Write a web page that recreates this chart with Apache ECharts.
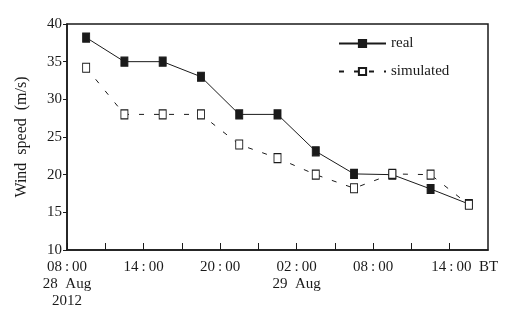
<!DOCTYPE html>
<html>
<head>
<meta charset="utf-8">
<script src="https://cdn.jsdelivr.net/npm/echarts@6/dist/echarts.min.js"></script>
<style>
  html, body { margin: 0; padding: 0; background: #fff; }
  #main { width: 527px; height: 315px; }
</style>
</head>
<body>
<div id="main"></div>
<script>
// hours after 08:00 28 Aug 2012
var obsHours = [1.5, 4.5, 7.5, 10.5, 13.5, 16.5, 19.5, 22.5, 25.5, 28.5, 31.5];
var realSpeed = [38.2, 35, 35, 33, 28, 28, 23.1, 20.1, 20, 18.1, 16.1];
var simSpeed = [34.2, 28, 28, 28, 24, 22.2, 20, 18.2, 20.1, 20, 16];
var tickHours = [0, 6, 12, 18, 24, 30];
var tickText = [
    '08\u2009:\u200900\n28  Aug\n2012',
    '14\u2009:\u200900',
    '20\u2009:\u200900',
    '02\u2009:\u200900\n29  Aug',
    '08\u2009:\u200900',
    '\u00a0\u00a0\u00a0\u00a0\u00a0\u00a0\u00a0\u00a014\u2009:\u200900\u00a0\u00a0BT'
];

var FONT = '"Liberation Serif", serif';
var INK = '#1a1a1a';

function pairs(xs, ys) {
    var out = [];
    for (var i = 0; i < xs.length; i++) {
        out.push([xs[i], ys[i]]);
    }
    return out;
}

var myChart = echarts.init(document.getElementById('main'));

var option = {
    animation: false,
    textStyle: { fontFamily: FONT, color: INK },
    grid: {
        left: 67, right: 39, top: 24, bottom: 65,
        show: true,
        borderColor: INK,
        borderWidth: 1.5,
        backgroundColor: 'transparent'
    },
    legend: {
        orient: 'vertical',
        left: 333,
        top: 31,
        itemWidth: 47,
        itemHeight: 9,
        itemGap: 13,
        textStyle: { fontFamily: FONT, fontSize: 15, color: INK },
        data: ['real', 'simulated']
    },
    xAxis: {
        type: 'value',
        min: 0,
        max: 33,
        interval: 3,
        axisLine: { lineStyle: { color: INK, width: 1.5 } },
        axisTick: { inside: true, length: 7, lineStyle: { color: INK, width: 1 } },
        splitLine: { show: false },
        axisLabel: {
            fontFamily: FONT,
            fontSize: 15,
            color: INK,
            lineHeight: 17,
            margin: 9,
            showMaxLabel: false,
            formatter: function (v) {
                var i = tickHours.indexOf(v);
                return i >= 0 ? tickText[i] : '';
            }
        }
    },
    yAxis: {
        type: 'value',
        min: 10,
        max: 40,
        interval: 5,
        name: 'Wind  speed  (m/s)',
        nameLocation: 'middle',
        nameGap: 37,
        nameTextStyle: { fontFamily: FONT, fontSize: 16, color: INK },
        axisLine: { show: true, lineStyle: { color: INK, width: 1.5 } },
        axisTick: { show: true, inside: false, length: 4, lineStyle: { color: INK, width: 1 } },
        splitLine: { show: false },
        axisLabel: { fontFamily: FONT, fontSize: 15, color: INK, margin: 5 }
    },
    series: [
        {
            name: 'real',
            type: 'line',
            data: pairs(obsHours, realSpeed),
            symbol: 'rect',
            symbolSize: [7, 9],
            lineStyle: { color: INK, width: 1 },
            itemStyle: { color: INK, borderColor: INK, borderWidth: 1 },
            z: 2
        },
        {
            name: 'simulated',
            type: 'line',
            data: pairs(obsHours, simSpeed),
            symbol: 'rect',
            symbolSize: [7, 9],
            lineStyle: { color: INK, width: 1, type: [5, 10] },
            itemStyle: { color: '#fff', borderColor: INK, borderWidth: 1 },
            z: 3
        }
    ]
};

myChart.setOption(option);
</script>
</body>
</html>
